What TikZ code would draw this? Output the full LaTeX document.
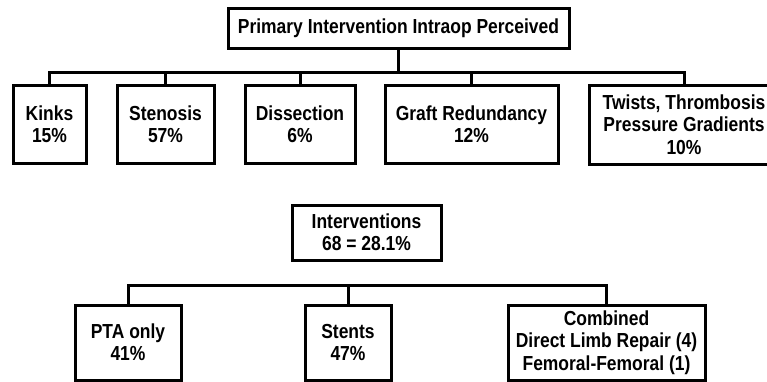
\documentclass[tikz,border=0pt]{standalone}
\usepackage{fontspec}
\setmainfont{Liberation Sans}[FakeStretch=0.86]
\usepackage{tikz}

\begin{document}
\begin{tikzpicture}[x=1pt, y=-1pt,
  box/.style={draw=black, line width=3pt, align=center, inner sep=0pt,
    font=\fontsize{20.3}{22.3}\selectfont\bfseries},
  link/.style={draw=black, line width=3pt}]
  \useasboundingbox (0,0) rectangle (767,381);
  \clip (0,0) rectangle (767,381);
  \node[box, minimum width=341, minimum height=40] (prim) at (398.5,28) {Primary Intervention Intraop Perceived};
  \node[box, minimum width=73, minimum height=78] (kinks) at (49.5,124) {Kinks\\15\%};
  \node[box, minimum width=97, minimum height=78] (sten) at (165.5,124) {Stenosis\\57\%};
  \node[box, minimum width=110, minimum height=78] (diss) at (300,124) {Dissection\\6\%};
  \node[box, minimum width=173, minimum height=78] (graft) at (471.5,124) {Graft Redundancy\\12\%};
  \node[box, minimum width=190, minimum height=79] (twist) at (684,124.5) {Twists, Thrombosis\\Pressure Gradients\\10\%};
  \coordinate (topbar) at (0,72);
  \draw[link] (prim.south) -- (prim.south |- topbar);
  \draw[link] (kinks.north) -- (kinks.north |- topbar) -- (twist.north |- topbar) -- (twist.north);
  \draw[link] (sten.north) -- (sten.north |- topbar);
  \draw[link] (diss.north) -- (diss.north |- topbar);
  \draw[link] (graft.north) -- (graft.north |- topbar);
  \node[box, minimum width=149, minimum height=55] (interv) at (366.5,232.5) {Interventions\\68 = 28.1\%};
  \node[box, minimum width=106, minimum height=75] (pta) at (128,342.5) {PTA only\\41\%};
  \node[box, minimum width=86, minimum height=75] (stents) at (348,342.5) {Stents\\47\%};
  \node[box, minimum width=197, minimum height=75] (comb) at (606.5,342.5) {Combined\\Direct Limb Repair (4)\\Femoral-Femoral (1)};
  \coordinate (lowbar) at (0,285);
  \draw[link] (pta.north) -- (pta.north |- lowbar) -- (comb.north |- lowbar) -- (comb.north);
  \draw[link] (stents.north) -- (stents.north |- lowbar);
\end{tikzpicture}
\end{document}
